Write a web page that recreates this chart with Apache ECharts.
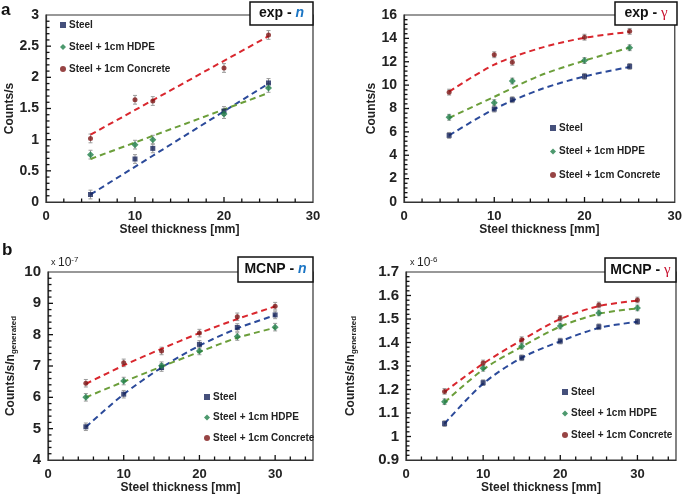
<!DOCTYPE html>
<html>
<head>
<meta charset="utf-8">
<script src="https://cdn.jsdelivr.net/npm/echarts@6/dist/echarts.min.js"></script>
<style>html,body{margin:0;padding:0;background:#fff}#c{width:685px;height:496px}</style>
</head>
<body>
<div id="c"></div>
<script>
// ---------- DATA ----------
const seriesNames = ['Steel', 'Steel + 1cm HDPE', 'Steel + 1cm Concrete'];

// (a) experiment
const expX = [5, 10, 12, 20, 25];
const expN_steel = [0.12, 0.69, 0.86, 1.46, 1.91];
const expN_hdpe  = [0.76, 0.92, 1.00, 1.41, 1.83];
const expN_conc  = [1.02, 1.64, 1.62, 2.15, 2.68];
const expN_err   = [0.07, 0.07, 0.07, 0.07, 0.07];
const expN_fitX  = [5, 25];
const expN_fitSteel = [0.12, 1.90];
const expN_fitHdpe  = [0.69, 1.75];
const expN_fitConc  = [1.08, 2.66];

const expG_steel = [5.70, 7.95, 8.75, 10.75, 11.60];
const expG_hdpe  = [7.25, 8.50, 10.35, 12.10, 13.20];
const expG_conc  = [9.40, 12.60, 11.95, 14.10, 14.60];
const expG_err   = [0.25, 0.25, 0.25, 0.25, 0.25];
const expG_fitX  = [5, 10, 15, 20, 25];
const expG_fitSteel = [5.70, 7.95, 9.60, 10.75, 11.55];
const expG_fitHdpe  = [7.20, 9.00, 10.80, 12.10, 13.20];
const expG_fitConc  = [9.45, 11.75, 13.15, 14.05, 14.55];

// (b) MCNP
const mcnpX = [5, 10, 15, 20, 25, 30];
const mcnpN_steel = [5.06, 6.10, 6.95, 7.69, 8.23, 8.63];
const mcnpN_hdpe  = [6.00, 6.52, 7.01, 7.48, 7.94, 8.24];
const mcnpN_conc  = [6.45, 7.10, 7.48, 8.05, 8.57, 8.91];
const mcnpN_err   = [0.12, 0.12, 0.12, 0.12, 0.12, 0.12];
const mcnpN_fitSteel = [5.05, 6.10, 6.95, 7.65, 8.20, 8.62];
const mcnpN_fitHdpe  = [6.00, 6.50, 6.98, 7.45, 7.90, 8.22];
const mcnpN_fitConc  = [6.43, 7.02, 7.55, 8.05, 8.50, 8.90];

const mcnpG_steel = [1.055, 1.229, 1.335, 1.406, 1.467, 1.489];
const mcnpG_hdpe  = [1.148, 1.290, 1.384, 1.470, 1.526, 1.547];
const mcnpG_conc  = [1.192, 1.313, 1.412, 1.503, 1.560, 1.581];
const mcnpG_err   = [0.012, 0.012, 0.012, 0.012, 0.012, 0.012];
const mcnpG_fitSteel = [1.055, 1.225, 1.335, 1.405, 1.462, 1.488];
const mcnpG_fitHdpe  = [1.145, 1.285, 1.382, 1.468, 1.522, 1.545];
const mcnpG_fitConc  = [1.190, 1.310, 1.410, 1.500, 1.555, 1.578];

const xTicksExp = {min: 0, max: 30, interval: 10};
const xTicksMcnp = {min: 0, max: 35, interval: 10};
const yTicks = [
  {min: 0, max: 3, interval: 0.5},
  {min: 0, max: 16, interval: 2},
  {min: 4, max: 10, interval: 1},
  {min: 0.9, max: 1.7, interval: 0.1}
];
const panelXTicks = [xTicksExp, xTicksExp, xTicksMcnp, xTicksMcnp];
const minorSplit = 5;

// ---------- STYLE ----------
const markColors = ['#16245a', '#21804a', '#7d1515'];
const lineColors = ['#2b4a9a', '#6b9e3a', '#d9272e'];
const symbols = ['rect', 'diamond', 'circle'];
const symSizes = [5, 7, 5];
const FONT = 'Liberation Sans, Arial, sans-serif';

function errRender(params, api) {
  const x = api.value(0), lo = api.value(1), hi = api.value(2);
  const p1 = api.coord([x, lo]), p2 = api.coord([x, hi]);
  const w = 2;
  const st = {stroke: '#9a9a9a', lineWidth: 1};
  return {type: 'group', children: [
    {type: 'line', shape: {x1: p1[0], y1: p1[1], x2: p2[0], y2: p2[1]}, style: st},
    {type: 'line', shape: {x1: p1[0] - w, y1: p1[1], x2: p1[0] + w, y2: p1[1]}, style: st},
    {type: 'line', shape: {x1: p2[0] - w, y1: p2[1], x2: p2[0] + w, y2: p2[1]}, style: st}
  ]};
}

// tick values (major + minor) along both axes of a panel
function tickData(xt, yt) {
  const out = [];
  const xs = xt.interval / minorSplit, ys = yt.interval / minorSplit;
  const nx = Math.round((xt.max - xt.min) / xs), ny = Math.round((yt.max - yt.min) / ys);
  for (let i = 1; i < nx; i++) out.push([xt.min + i * xs, yt.min, i % minorSplit === 0 ? 0 : 1]);
  for (let j = 1; j < ny; j++) out.push([xt.min, yt.min + j * ys, j % minorSplit === 0 ? 2 : 3]);
  return out;
}

const zip = (xs, ys) => xs.map((x, i) => [x, ys[i]]);

function panelSeries(idx, xs, vals, errs, fitX, fits, smooth) {
  const out = [];
  for (let s = 0; s < 3; s++) {
    out.push({
      type: 'custom', xAxisIndex: idx, yAxisIndex: idx, z: 1,
      renderItem: errRender, encode: {x: 0, y: [1, 2]}, silent: true,
      data: xs.map((x, i) => [x, vals[s][i] - errs[i], vals[s][i] + errs[i]])
    });
    out.push({
      type: 'line', xAxisIndex: idx, yAxisIndex: idx, z: 2,
      data: zip(fitX, fits[s]), showSymbol: false, symbol: 'none',
      smooth: smooth ? 0.3 : false,
      lineStyle: {color: lineColors[s], width: 2, type: [6, 4]}, silent: true
    });
    out.push({
      type: 'scatter', name: seriesNames[s], xAxisIndex: idx, yAxisIndex: idx, z: 3,
      data: zip(xs, vals[s]), symbol: symbols[s], symbolSize: symSizes[s],
      itemStyle: {color: markColors[s]}
    });
  }
  return out;
}

const grids = [
  {left: 46, top: 15, width: 267, height: 187},
  {left: 404, top: 15, width: 272, height: 187},
  {left: 48, top: 272, width: 265, height: 188},
  {left: 406, top: 272, width: 270, height: 188}
].map(g => Object.assign(g, {show: true, borderColor: '#333', borderWidth: 1.2, backgroundColor: 'transparent'}));

function xAxis(idx, t, fs, gap) {
  return Object.assign({
    type: 'value', gridIndex: idx, name: 'Steel thickness [mm]', nameLocation: 'middle', nameGap: gap,
    nameTextStyle: {fontFamily: FONT, fontWeight: 'bold', fontSize: 12, color: '#222'},
    axisLine: {show: true, onZero: false, lineStyle: {color: '#333', width: 1.2}},
    axisTick: {show: false},
    splitLine: {show: false},
    axisLabel: {fontFamily: FONT, fontWeight: 'bold', fontSize: fs, color: '#222', margin: 8, showMaxLabel: t.max === 30}
  }, t);
}

function yAxis(idx, t, fs, name, gap, rich) {
  return Object.assign({
    type: 'value', gridIndex: idx, name: name, nameLocation: 'middle', nameGap: gap,
    nameTextStyle: Object.assign({fontFamily: FONT, fontWeight: 'bold', fontSize: 12, color: '#222'}, rich ? {rich: rich} : {}),
    axisLine: {show: true, onZero: false, lineStyle: {color: '#333', width: 1.2}},
    axisTick: {show: false},
    splitLine: {show: false},
    axisLabel: {fontFamily: FONT, fontWeight: 'bold', fontSize: fs, color: '#222', margin: 7}
  }, t);
}

const subRich = {
  a: {fontFamily: FONT, fontWeight: 'bold', fontSize: 12, color: '#222'},
  s: {fontFamily: FONT, fontWeight: 'bold', fontSize: 8, color: '#222', padding: [6, 0, 0, 0]}
};

function legend(left, top, gap) {
  return {
    data: seriesNames, left: left, top: top, orient: 'vertical', itemGap: gap, padding: 0,
    itemWidth: 6, itemHeight: 6, selectedMode: false,
    textStyle: {fontFamily: FONT, fontWeight: 'bold', fontSize: 10, color: '#222', lineHeight: 12, padding: [0, 0, 0, -2]}
  };
}

function titleBox(x, y, w, h, main, sym, symStyle) {
  return [
    {type: 'rect', shape: {x: x, y: y, width: w, height: h}, style: {fill: '#fff', stroke: '#111', lineWidth: 1.5}, z: 100},
    {type: 'text', x: x + w / 2, y: y + h / 2, z: 101, style: {
      text: '{m|' + main + '}{s|' + sym + '}', align: 'center', verticalAlign: 'middle',
      rich: {m: {fontFamily: FONT, fontWeight: 'bold', fontSize: 14, fill: '#111'}, s: symStyle}
    }}
  ];
}

const nStyle = {fontFamily: FONT, fontWeight: 'bold', fontStyle: 'italic', fontSize: 14, fill: '#1b75c4'};
const gStyle = {fontFamily: 'Liberation Serif, DejaVu Serif, serif', fontSize: 15, fill: '#c8102e'};

function powerLabel(x, y, exp) {
  return {type: 'text', x: x, y: y, z: 101, style: {
    text: '{x|x }{b|10}{e|' + exp + '}', verticalAlign: 'middle',
    rich: {
      x: {fontFamily: FONT, fontSize: 9, fill: '#222'},
      b: {fontFamily: FONT, fontSize: 12, fill: '#222'},
      e: {fontFamily: FONT, fontSize: 8, fill: '#222', padding: [0, 0, 7, 0]}
    }
  }};
}

const baseGraphic = [].concat(
  [{type: 'text', x: 1, y: 2, z: 101, style: {text: 'a', fontFamily: FONT, fontWeight: 'bold', fontSize: 17, fill: '#111'}}],
  [{type: 'text', x: 2, y: 242, z: 101, style: {text: 'b', fontFamily: FONT, fontWeight: 'bold', fontSize: 17, fill: '#111'}}],
  titleBox(250, 2, 63, 23, 'exp - ', 'n', nStyle),
  titleBox(615, 2, 62, 23, 'exp - ', 'γ', gStyle),
  titleBox(238, 257, 75, 25, 'MCNP - ', 'n', nStyle),
  titleBox(605, 258, 71, 24, 'MCNP - ', 'γ', gStyle),
  [powerLabel(51, 263, '-7'), powerLabel(410, 263, '-6')]
);

const option = {
  animation: false,
  backgroundColor: '#fff',
  grid: grids,
  xAxis: [xAxis(0, xTicksExp, 13, 22), xAxis(1, xTicksExp, 13, 22), xAxis(2, xTicksMcnp, 13, 20), xAxis(3, xTicksMcnp, 13, 20)],
  yAxis: [
    yAxis(0, yTicks[0], 14, 'Counts/s', 28),
    yAxis(1, yTicks[1], 14, 'Counts/s', 25),
    yAxis(2, yTicks[2], 15, '{a|Counts/s/n}{s|generated}', 30, subRich),
    yAxis(3, yTicks[3], 15, '{a|Counts/s/n}{s|generated}', 48, subRich)
  ],
  legend: [legend(60, 19, 10), legend(550, 122, 11.5), legend(204, 391, 8.5), legend(562, 386, 9.5)],
  series: [].concat(
    panelSeries(0, expX, [expN_steel, expN_hdpe, expN_conc], expN_err, expN_fitX, [expN_fitSteel, expN_fitHdpe, expN_fitConc], false),
    panelSeries(1, expX, [expG_steel, expG_hdpe, expG_conc], expG_err, expG_fitX, [expG_fitSteel, expG_fitHdpe, expG_fitConc], true),
    panelSeries(2, mcnpX, [mcnpN_steel, mcnpN_hdpe, mcnpN_conc], mcnpN_err, mcnpX, [mcnpN_fitSteel, mcnpN_fitHdpe, mcnpN_fitConc], true),
    panelSeries(3, mcnpX, [mcnpG_steel, mcnpG_hdpe, mcnpG_conc], mcnpG_err, mcnpX, [mcnpG_fitSteel, mcnpG_fitHdpe, mcnpG_fitConc], true)
  ),
  graphic: baseGraphic
};

const chart = echarts.init(document.getElementById('c'), null, {renderer: 'canvas'});
chart.setOption(option);

// inward ticks, positioned through each panel's own axis scales
const tickEls = [];
for (let gi = 0; gi < 4; gi++) {
  tickData(panelXTicks[gi], yTicks[gi]).forEach(function (t) {
    let p = chart.convertToPixel({xAxisIndex: gi, yAxisIndex: gi}, [t[0], t[1]]);
    if (!p || isNaN(p[0])) p = chart.convertToPixel({gridIndex: gi}, [t[0], t[1]]);
    if (!p || isNaN(p[0]) || isNaN(p[1])) return;
    const len = (t[2] === 0 || t[2] === 2) ? 5 : 3.5;
    const shape = t[2] < 2
      ? {x1: p[0], y1: p[1], x2: p[0], y2: p[1] - len}
      : {x1: p[0], y1: p[1], x2: p[0] + len, y2: p[1]};
    tickEls.push({type: 'line', z: 90, silent: true, shape: shape, style: {stroke: '#111', lineWidth: 1.3}});
  });
}
chart.setOption({graphic: {elements: baseGraphic.concat(tickEls)}});
</script>
</body>
</html>
